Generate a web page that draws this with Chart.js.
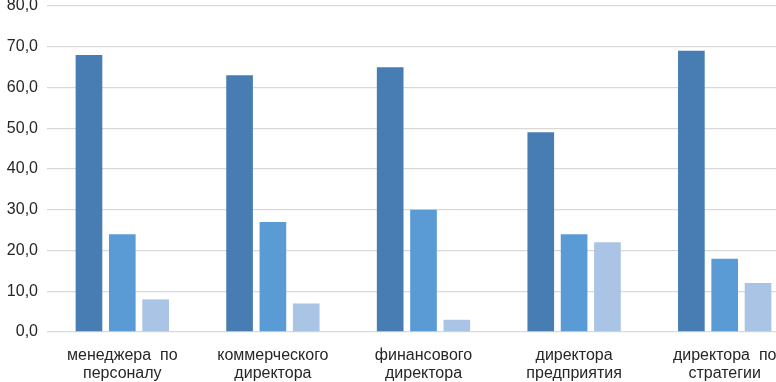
<!DOCTYPE html>
<html>
<head>
<meta charset="utf-8">
<script src="https://cdn.jsdelivr.net/npm/chart.js@4"></script>
<style>
  html, body { margin: 0; padding: 0; background: #fff; overflow: hidden; }
  #wrap { width: 800px; height: 382px; position: relative; }
</style>
</head>
<body>
<div id="wrap"><canvas id="chart"></canvas></div>
<script>
// categories (multi-line labels) and the three series
var categories = [
  ['менеджера  по', 'персоналу'],
  ['коммерческого', 'директора'],
  ['финансового', 'директора'],
  ['директора', 'предприятия'],
  ['директора  по', 'стратегии']
];
var seriesOne = [68, 63, 65, 49, 69];
var seriesTwo = [24, 27, 30, 24, 18];
var seriesThree = [8, 7, 3, 22, 12];

Chart.defaults.font.family = '"Liberation Sans", Arial, sans-serif';
Chart.defaults.font.size = 16;
Chart.defaults.color = '#262626';

function bar(data, color) {
  return {
    data: data,
    backgroundColor: color,
    borderWidth: 0,
    categoryPercentage: 0.664,
    barPercentage: 0.8
  };
}

new Chart('chart', {
  type: 'bar',
  data: {
    labels: categories,
    datasets: [
      bar(seriesOne, 'rgb(72,125,180)'),
      bar(seriesTwo, 'rgb(91,155,213)'),
      bar(seriesThree, 'rgb(169,196,228)')
    ]
  },
  options: {
    responsive: true,
    maintainAspectRatio: false,
    animation: false,
    layout: { padding: 0 },
    plugins: { legend: { display: false }, tooltip: { enabled: false } },
    scales: {
      x: {
        grid: { display: false },
        border: { display: false },
        afterFit: function(scale) { scale.height = 50; scale.paddingBottom = 0; },
        ticks: { padding: 6, maxRotation: 0, autoSkip: false, font: { lineHeight: 1.15 } }
      },
      y: {
        min: 0,
        max: 80,
        border: { display: false },
        grid: { color: '#d9d9d9', lineWidth: 1.3, drawTicks: false },
        afterFit: function(scale) { scale.paddingTop = 6; scale.width = 47; },
        ticks: {
          stepSize: 10,
          padding: 9,
          callback: function(value) { return value.toFixed(1).replace('.', ','); }
        }
      }
    }
  }
});
</script>
</body>
</html>
